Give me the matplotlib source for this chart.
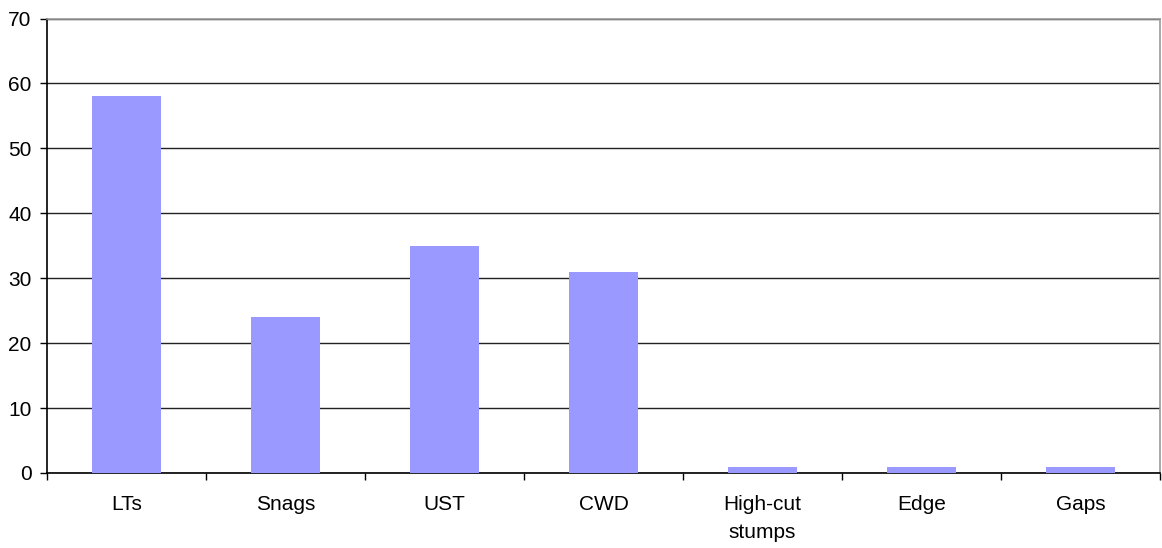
import matplotlib
matplotlib.use("Agg")
from matplotlib import pyplot as plt
import numpy as np

# Counts per structure type
CATEGORIES = ["LTs", "Snags", "UST", "CWD", "High-cut\nstumps", "Edge", "Gaps"]
COUNTS = [58, 24, 35, 31, 1, 1, 1]
Y_TICKS = [0, 10, 20, 30, 40, 50, 60, 70]

BAR_COLOR = "#9999FF"
FONT_SIZE = 15

plt.rcParams["font.family"] = ["Liberation Sans", "DejaVu Sans"]

fig = plt.figure(figsize=(11.62, 5.48), dpi=100)
ax = fig.add_axes([47 / 1162, 1 - 473 / 548, (1160 - 47) / 1162, (473 - 18.5) / 548])

x = np.arange(len(CATEGORIES))
ax.bar(x, COUNTS, width=0.43, color=BAR_COLOR, zorder=3)

ax.set_xlim(-0.5, len(CATEGORIES) - 0.5)
ax.set_ylim(0, 70)
ax.set_yticks(Y_TICKS)
ax.set_yticklabels([str(v) for v in Y_TICKS], fontsize=FONT_SIZE)

# category labels sit between the boundary ticks
ax.set_xticks(np.arange(len(CATEGORIES) + 1) - 0.5)
ax.set_xticklabels([])
ax.set_xticks(x, minor=True)
ax.set_xticklabels(CATEGORIES, minor=True, fontsize=FONT_SIZE, linespacing=1.6)
ax.tick_params(axis="x", which="minor", length=0, pad=16)
ax.tick_params(axis="x", which="major", length=5, width=1, color="black", direction="out")
ax.tick_params(axis="y", length=5, width=1, color="black", direction="out", pad=6)

ax.yaxis.grid(True, color="#222222", linewidth=1)
ax.set_axisbelow(True)

for side in ("top", "right"):
    ax.spines[side].set_color("#999999")
    ax.spines[side].set_linewidth(1.2)
for side in ("left", "bottom"):
    ax.spines[side].set_color("black")
    ax.spines[side].set_linewidth(1.2)

fig.savefig("out.png", dpi=100)
